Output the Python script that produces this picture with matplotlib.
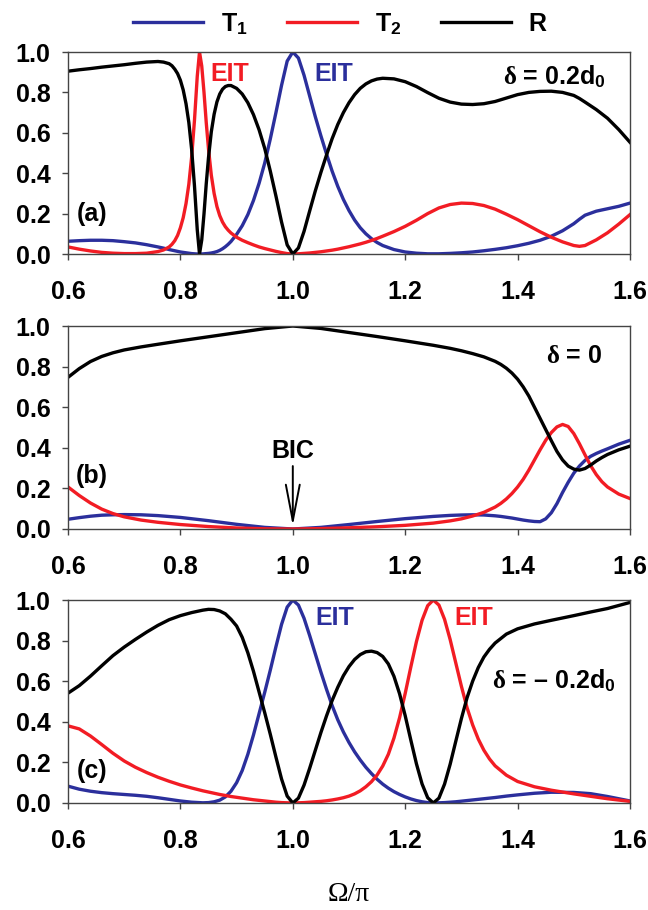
import matplotlib
matplotlib.use("Agg")
import matplotlib.pyplot as plt

plt.rcParams["font.family"] = ["Liberation Sans", "DejaVu Sans"]
plt.rcParams["font.weight"] = "bold"
plt.rcParams["mathtext.fontset"] = "custom"
plt.rcParams["mathtext.rm"] = "Liberation Sans:bold"
plt.rcParams["mathtext.bf"] = "Liberation Sans:bold"
plt.rcParams["mathtext.it"] = "Liberation Serif"

BLUE = "#2B2F9C"
RED = "#F21C24"
BLACK = "#000000"

# ---- (a) delta = 0.2 d0 ----
xa = [0.60, 0.62, 0.64, 0.66, 0.68, 0.70, 0.72, 0.74, 0.76, 0.77, 0.78, 0.785, 0.79, 0.795,
      0.80, 0.805, 0.81, 0.815, 0.82, 0.825, 0.83, 0.834, 0.838, 0.842, 0.846, 0.85, 0.855,
      0.86, 0.865, 0.87, 0.875, 0.88, 0.885, 0.89, 0.90, 0.91, 0.92, 0.93, 0.94, 0.95, 0.96,
      0.97, 0.98, 0.99, 1.00, 1.01, 1.02, 1.03, 1.04, 1.05, 1.06, 1.07, 1.08, 1.09, 1.10,
      1.11, 1.12, 1.13, 1.14, 1.15, 1.16, 1.18, 1.20, 1.22, 1.24, 1.26, 1.28, 1.30, 1.32,
      1.34, 1.36, 1.38, 1.40, 1.42, 1.44, 1.46, 1.48, 1.50, 1.51, 1.52, 1.54, 1.56, 1.58, 1.60]
t1_a = [0.063, 0.066, 0.068, 0.068, 0.066, 0.061, 0.055, 0.046, 0.035, 0.029, 0.022, 0.019,
        0.016, 0.013, 0.010, 0.008, 0.006, 0.004, 0.002, 0.001, 0.000, 0.000, 0.000, 0.001,
        0.002, 0.003, 0.005, 0.008, 0.012, 0.018, 0.026, 0.036, 0.048, 0.062, 0.097, 0.140,
        0.195, 0.265, 0.350, 0.450, 0.570, 0.700, 0.835, 0.955, 1.000, 0.970, 0.885, 0.782,
        0.680, 0.585, 0.495, 0.410, 0.335, 0.270, 0.215, 0.168, 0.130, 0.100, 0.076, 0.057,
        0.042, 0.022, 0.010, 0.004, 0.001, 0.001, 0.003, 0.006, 0.010, 0.016, 0.023, 0.031,
        0.041, 0.053, 0.068, 0.088, 0.115, 0.150, 0.172, 0.192, 0.212, 0.224, 0.236, 0.252]
t2_a = [0.035, 0.024, 0.015, 0.008, 0.004, 0.002, 0.002, 0.004, 0.012, 0.020, 0.035, 0.048,
        0.066, 0.092, 0.130, 0.180, 0.250, 0.345, 0.480, 0.660, 0.880, 1.000, 0.930, 0.800,
        0.650, 0.520, 0.390, 0.300, 0.235, 0.190, 0.158, 0.135, 0.118, 0.104, 0.083, 0.068,
        0.056, 0.045, 0.035, 0.027, 0.020, 0.013, 0.007, 0.002, 0.000, 0.001, 0.003, 0.005,
        0.008, 0.011, 0.015, 0.019, 0.024, 0.030, 0.036, 0.043, 0.050, 0.058, 0.067, 0.077,
        0.088, 0.111, 0.137, 0.167, 0.200, 0.228, 0.245, 0.252, 0.250, 0.240, 0.222, 0.197,
        0.170, 0.140, 0.110, 0.083, 0.060, 0.042, 0.038, 0.042, 0.070, 0.105, 0.148, 0.195]
r_a = [0.905, 0.912, 0.918, 0.925, 0.931, 0.937, 0.944, 0.950, 0.953, 0.950, 0.942, 0.932,
       0.915, 0.893, 0.860, 0.812, 0.744, 0.651, 0.518, 0.339, 0.120, 0.000, 0.070, 0.199,
       0.348, 0.477, 0.605, 0.692, 0.753, 0.792, 0.816, 0.829, 0.834, 0.834, 0.820, 0.792,
       0.749, 0.690, 0.615, 0.523, 0.410, 0.287, 0.158, 0.045, 0.000, 0.030, 0.112, 0.213,
       0.312, 0.404, 0.490, 0.571, 0.641, 0.700, 0.749, 0.789, 0.820, 0.842, 0.857, 0.866,
       0.870, 0.867, 0.853, 0.829, 0.799, 0.771, 0.752, 0.742, 0.740, 0.744, 0.755, 0.772,
       0.789, 0.800, 0.805, 0.806, 0.800, 0.785, 0.770, 0.752, 0.715, 0.672, 0.616, 0.553]

# ---- (b) delta = 0 ----
xb = [0.60, 0.62, 0.64, 0.66, 0.68, 0.70, 0.73, 0.76, 0.80, 0.85, 0.90, 0.95, 1.00, 1.05,
      1.10, 1.15, 1.20, 1.25, 1.28, 1.30, 1.32, 1.34, 1.36, 1.37, 1.38, 1.39, 1.40, 1.41,
      1.42, 1.43, 1.44, 1.45, 1.46, 1.47, 1.48, 1.49, 1.50, 1.51, 1.52, 1.53, 1.54, 1.55,
      1.56, 1.58, 1.60]
t1_b = [0.048, 0.056, 0.063, 0.068, 0.070, 0.071, 0.070, 0.066, 0.057, 0.041, 0.023, 0.008,
        0.000, 0.008, 0.022, 0.037, 0.051, 0.062, 0.067, 0.069, 0.070, 0.069, 0.065, 0.062,
        0.058, 0.054, 0.049, 0.044, 0.040, 0.037, 0.036, 0.050, 0.080, 0.125, 0.180, 0.230,
        0.275, 0.310, 0.338, 0.358, 0.372, 0.384, 0.395, 0.418, 0.437]
t2_b = [0.207, 0.165, 0.128, 0.098, 0.076, 0.060, 0.044, 0.033, 0.022, 0.012, 0.005, 0.001,
        0.000, 0.002, 0.006, 0.011, 0.018, 0.029, 0.040, 0.050, 0.064, 0.082, 0.108, 0.126,
        0.148, 0.175, 0.207, 0.245, 0.290, 0.340, 0.390, 0.437, 0.475, 0.503, 0.515, 0.505,
        0.470, 0.420, 0.365, 0.312, 0.268, 0.233, 0.207, 0.172, 0.150]
r_b = [0.747, 0.790, 0.825, 0.850, 0.868, 0.882, 0.897, 0.910, 0.927, 0.947, 0.967, 0.987,
       1.000, 0.988, 0.968, 0.948, 0.927, 0.905, 0.890, 0.878, 0.864, 0.848, 0.826, 0.811,
       0.792, 0.768, 0.738, 0.700, 0.655, 0.600, 0.545, 0.490, 0.435, 0.382, 0.340, 0.310,
       0.295, 0.290, 0.298, 0.315, 0.335, 0.352, 0.367, 0.390, 0.408]

# ---- (c) delta = -0.2 d0 ----
xc = [0.60, 0.62, 0.64, 0.66, 0.68, 0.70, 0.72, 0.74, 0.76, 0.78, 0.80, 0.82, 0.84, 0.85,
      0.86, 0.87, 0.88, 0.89, 0.90, 0.91, 0.92, 0.93, 0.94, 0.95, 0.96, 0.97, 0.98, 0.99,
      1.00, 1.01, 1.02, 1.03, 1.04, 1.05, 1.06, 1.07, 1.08, 1.09, 1.10, 1.11, 1.12, 1.13,
      1.14, 1.15, 1.16, 1.17, 1.18, 1.19, 1.20, 1.21, 1.22, 1.23, 1.24, 1.25, 1.26, 1.27,
      1.28, 1.29, 1.30, 1.31, 1.32, 1.33, 1.34, 1.35, 1.36, 1.38, 1.40, 1.43, 1.46, 1.50,
      1.53, 1.56, 1.60]
t1_c = [0.083, 0.068, 0.058, 0.051, 0.046, 0.042, 0.038, 0.033, 0.026, 0.018, 0.010, 0.004,
        0.001, 0.002, 0.006, 0.014, 0.030, 0.058, 0.100, 0.160, 0.240, 0.335, 0.440, 0.545,
        0.655, 0.770, 0.880, 0.965, 1.000, 0.975, 0.910, 0.825, 0.735, 0.645, 0.560, 0.480,
        0.410, 0.350, 0.298, 0.252, 0.212, 0.176, 0.145, 0.117, 0.093, 0.073, 0.056, 0.042,
        0.030, 0.020, 0.012, 0.006, 0.002, 0.000, 0.001, 0.002, 0.004, 0.006, 0.009, 0.012,
        0.015, 0.018, 0.021, 0.024, 0.027, 0.034, 0.040, 0.048, 0.053, 0.052, 0.046, 0.032,
        0.010]
t2_c = [0.380, 0.365, 0.330, 0.288, 0.245, 0.207, 0.176, 0.150, 0.127, 0.107, 0.089, 0.074,
        0.060, 0.054, 0.048, 0.042, 0.037, 0.032, 0.028, 0.024, 0.020, 0.016, 0.013, 0.010,
        0.007, 0.004, 0.002, 0.001, 0.000, 0.001, 0.002, 0.004, 0.006, 0.008, 0.011, 0.015,
        0.020, 0.026, 0.034, 0.045, 0.060, 0.080, 0.105, 0.138, 0.182, 0.240, 0.320, 0.420,
        0.540, 0.670, 0.795, 0.900, 0.972, 1.000, 0.975, 0.905, 0.805, 0.690, 0.575, 0.470,
        0.385, 0.315, 0.260, 0.217, 0.183, 0.137, 0.106, 0.080, 0.063, 0.045, 0.033, 0.021,
        0.008]
r_c = [0.541, 0.578, 0.625, 0.676, 0.726, 0.768, 0.806, 0.842, 0.875, 0.903, 0.923, 0.938,
       0.950, 0.954, 0.953, 0.946, 0.932, 0.905, 0.872, 0.816, 0.740, 0.649, 0.547, 0.445,
       0.338, 0.226, 0.118, 0.034, 0.000, 0.024, 0.088, 0.171, 0.259, 0.347, 0.429, 0.505,
       0.570, 0.627, 0.672, 0.707, 0.731, 0.745, 0.748, 0.741, 0.722, 0.685, 0.624, 0.538,
       0.430, 0.310, 0.193, 0.094, 0.026, 0.000, 0.024, 0.093, 0.191, 0.304, 0.416, 0.518,
       0.600, 0.667, 0.719, 0.757, 0.788, 0.832, 0.858, 0.882, 0.900, 0.923, 0.941, 0.958,
       0.988]

xticks = [0.6, 0.8, 1.0, 1.2, 1.4, 1.6]
yticks = [0.0, 0.2, 0.4, 0.6, 0.8, 1.0]
labels = ["T$_1$", "T$_2$", "R"]

FS = 18
fig = plt.figure(figsize=(6.48, 9.10), dpi=100)
left, width = 68 / 648, 562 / 648
boxes = [(1 - 254 / 910, 202 / 910), (1 - 529 / 910, 203 / 910), (1 - 803 / 910, 203 / 910)]
panels = [(xa, t1_a, t2_a, r_a), (xb, t1_b, t2_b, r_b), (xc, t1_c, t2_c, r_c)]

axes = []
for (bottom, height), (x, t1, t2, r) in zip(boxes, panels):
    ax = fig.add_axes([left, bottom, width, height])
    ax.plot(x, t1, color=BLUE, lw=2.4, label=labels[0], solid_joinstyle="round")
    ax.plot(x, t2, color=RED, lw=2.4, label=labels[1], solid_joinstyle="round")
    ax.plot(x, r, color=BLACK, lw=2.4, label=labels[2], solid_joinstyle="round")
    ax.set_xlim(0.6, 1.6)
    ax.set_ylim(0.0, 1.0)
    ax.set_xticks(xticks)
    ax.set_yticks(yticks)
    ax.set_xticklabels([f"{v:.1f}" for v in xticks])
    ax.set_yticklabels([f"{v:.1f}" for v in yticks])
    ax.tick_params(direction="out", length=4.5, width=1, color="#444444",
                   labelsize=FS, pad=8)
    ax.tick_params(axis="x", pad=14)
    for s in ax.spines.values():
        s.set_color("#444444")
        s.set_linewidth(1.0)
    axes.append(ax)

ax_a, ax_b, ax_c = axes

# panel (a) annotations
ax_a.text(0.888, 0.89, "EIT", color=RED, fontsize=FS, ha="center", va="center")
ax_a.text(1.072, 0.89, "EIT", color=BLUE, fontsize=FS, ha="center", va="center")
ax_a.text(1.465, 0.88, r"$\delta$ = 0.2d$_0$", fontsize=FS, ha="center", va="center")
ax_a.text(0.642, 0.20, "(a)", fontsize=FS, ha="center", va="center")

# panel (b) annotations
ax_b.text(1.50, 0.85, r"$\delta$ = 0", fontsize=FS, ha="center", va="center")
ax_b.text(0.642, 0.26, "(b)", fontsize=FS, ha="center", va="center")
ax_b.text(1.0, 0.385, "BIC", fontsize=FS, ha="center", va="center")
ax_b.annotate("", xy=(1.0, 0.015), xytext=(1.0, 0.31),
              arrowprops=dict(arrowstyle="->,head_length=1.3,head_width=0.25",
                              lw=1.4, color="black", mutation_scale=20,
                              shrinkA=0, shrinkB=0))

# panel (c) annotations
ax_c.text(1.074, 0.91, "EIT", color=BLUE, fontsize=FS, ha="center", va="center")
ax_c.text(1.322, 0.91, "EIT", color=RED, fontsize=FS, ha="center", va="center")
ax_c.text(1.465, 0.60, r"$\delta$ = – 0.2d$_0$", fontsize=FS, ha="center", va="center")
ax_c.text(0.642, 0.16, "(c)", fontsize=FS, ha="center", va="center")

ax_c.set_xlabel("Ω/π", fontfamily="Liberation Serif", fontweight="normal", fontsize=20)
ax_c.xaxis.label.set_va("center")
ax_c.xaxis.set_label_coords(0.5, -0.45)

handles = list(ax_a.get_lines())
fig.legend(handles, labels, loc="center", bbox_to_anchor=(340 / 648, 1 - 24 / 910),
           ncol=3, frameon=False, fontsize=FS, handlelength=2.8, columnspacing=1.6,
           handletextpad=0.7, borderpad=0.2)

fig.savefig("out.png", dpi=100)
